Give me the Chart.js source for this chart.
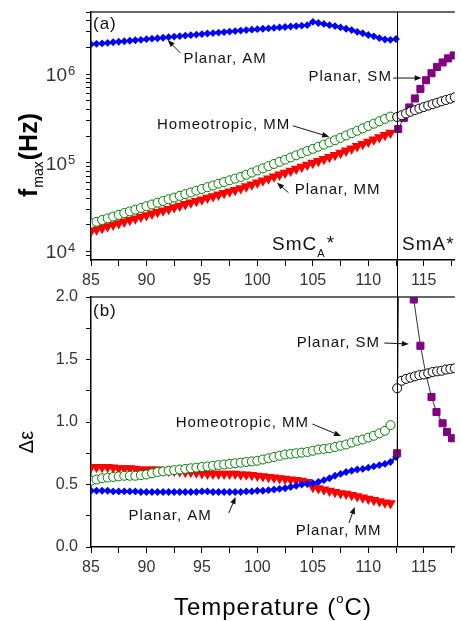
<!DOCTYPE html>
<html>
<head>
<meta charset="utf-8">
<script src="https://cdn.jsdelivr.net/npm/chart.js@4.4.1/dist/chart.umd.min.js"></script>
<style>
  html, body { margin: 0; padding: 0; background: #fff; }
  #wrap { position: relative; width: 461px; height: 621px; overflow: hidden; }
  canvas { position: absolute; left: 0; }
  #chartA { top: 0; }
  #chartB { top: 280px; }
</style>
</head>
<body>
<div id="wrap">
  <canvas id="chartA" width="461" height="300"></canvas>
  <canvas id="chartB" width="461" height="341"></canvas>
</div>
<script>
var FONT = '"Liberation Sans", Arial, sans-serif';

// temperatures (°C)
var tempsMM = [85, 85.5, 86, 86.5, 87, 87.5, 88, 88.5, 89, 89.5, 90, 90.5, 91, 91.5, 92, 92.5, 93, 93.5, 94, 94.5,
  95, 95.5, 96, 96.5, 97, 97.5, 98, 98.5, 99, 99.5, 100, 100.5, 101, 101.5, 102, 102.5, 103, 103.5, 104, 104.5,
  105, 105.5, 106, 106.5, 107, 107.5, 108, 108.5, 109, 109.5, 110, 110.5, 111, 111.5, 112];
var tempsAM = tempsMM.concat([112.5]);
var tempsSmA = [112.6, 113, 113.4, 113.8, 114.2, 114.6, 115, 115.4, 115.8, 116.2, 116.6, 117, 117.4, 117.8];
var tempsSMa = [112.7, 113.2, 113.7, 114.2, 114.7, 115.2, 115.7, 116.2, 116.7, 117.2, 117.7];
var tempsSMb = [112.6, 113, 114.1, 114.7, 115.2, 115.7, 116.15, 116.7, 117.1, 117.55];

// (a) f_max in Hz
var fmaxPlanarAM = [2.16e6, 2.19e6, 2.21e6, 2.24e6, 2.28e6, 2.31e6, 2.34e6, 2.37e6, 2.40e6, 2.43e6,
  2.47e6, 2.50e6, 2.53e6, 2.56e6, 2.60e6, 2.64e6, 2.67e6, 2.71e6, 2.74e6, 2.78e6,
  2.82e6, 2.86e6, 2.89e6, 2.93e6, 2.97e6, 3.01e6, 3.05e6, 3.09e6, 3.13e6, 3.16e6,
  3.20e6, 3.24e6, 3.27e6, 3.31e6, 3.35e6, 3.39e6, 3.43e6, 3.47e6, 3.51e6, 3.55e6,
  3.87e6, 3.76e6, 3.67e6, 3.55e6, 3.47e6, 3.35e6, 3.24e6, 3.13e6, 2.99e6, 2.88e6,
  2.75e6, 2.66e6, 2.54e6, 2.45e6, 2.43e6, 2.48e6];
var fmaxHomeoMM = [20650, 21580, 22590, 23610, 24720, 25820, 27040, 28250, 29580, 30900,
  32360, 33810, 35400, 36980, 38730, 40460, 42270, 44260, 46240, 48420,
  50580, 52970, 55340, 57940, 60530, 63390, 66220, 69180, 73110, 77450,
  81850, 86500, 91620, 96830, 102300, 108100, 114600, 121100, 127900, 135500,
  143200, 151400, 160000, 169400, 179100, 190500, 202800, 215300, 229100, 243800,
  259400, 275400, 293100, 311900, 331100];
var fmaxPlanarMM = [16900, 17620, 18370, 19140, 19950, 20750, 21630, 22540, 23500, 24490,
  25530, 26610, 27730, 28840, 30060, 31330, 32660, 34040, 35480, 36980,
  38460, 40090, 41780, 43550, 45390, 47320, 49200, 51290, 53950, 56750,
  59700, 62810, 66070, 69660, 73280, 77090, 81100, 85310, 89740, 94410,
  99310, 104500, 109900, 115600, 121600, 128800, 136500, 144500, 153500, 162600,
  172200, 182400, 193200, 204600, 217300];
var fmaxHomeoSmA = [327300, 342800, 358900, 375000, 390800, 407400, 423600, 440600, 457100, 474200,
  492000, 509300, 527200, 545800];
var fmaxPlanarSM = [2.4e5, 3.2e5, 4.2e5, 5.3e5, 6.8e5, 8.5e5, 1.02e6, 1.2e6, 1.35e6, 1.5e6, 1.62e6];

// (b) delta epsilon
var deltaPlanarMM = [0.64, 0.64, 0.64, 0.64, 0.635, 0.63, 0.63, 0.63, 0.625, 0.62,
  0.62, 0.62, 0.62, 0.615, 0.61, 0.61, 0.605, 0.60, 0.60, 0.595,
  0.59, 0.585, 0.585, 0.585, 0.585, 0.585, 0.585, 0.58, 0.58, 0.575,
  0.57, 0.565, 0.56, 0.555, 0.55, 0.545, 0.54, 0.535, 0.53, 0.52,
  0.48, 0.47, 0.46, 0.45, 0.44, 0.43, 0.425, 0.415, 0.405, 0.395,
  0.385, 0.375, 0.365, 0.355, 0.35];
var deltaPlanarAM = [0.45, 0.45, 0.45, 0.45, 0.445, 0.445, 0.445, 0.445, 0.445, 0.44,
  0.44, 0.44, 0.44, 0.44, 0.44, 0.44, 0.44, 0.44, 0.44, 0.44,
  0.445, 0.445, 0.44, 0.44, 0.44, 0.44, 0.44, 0.44, 0.445, 0.445,
  0.45, 0.45, 0.455, 0.46, 0.465, 0.47, 0.48, 0.49, 0.50, 0.505,
  0.51, 0.52, 0.535, 0.55, 0.57, 0.585, 0.60, 0.61, 0.62, 0.625,
  0.635, 0.645, 0.655, 0.665, 0.68, 0.72];
var deltaHomeoMM = [0.53, 0.54, 0.55, 0.555, 0.56, 0.565, 0.57, 0.57, 0.57, 0.575,
  0.58, 0.59, 0.60, 0.605, 0.61, 0.615, 0.62, 0.625, 0.63, 0.635,
  0.64, 0.645, 0.65, 0.655, 0.66, 0.665, 0.67, 0.675, 0.68, 0.685,
  0.69, 0.70, 0.71, 0.72, 0.73, 0.74, 0.745, 0.75, 0.755, 0.76,
  0.77, 0.78, 0.785, 0.79, 0.80, 0.81, 0.82, 0.835, 0.85, 0.86,
  0.875, 0.89, 0.91, 0.93, 0.975];
var deltaHomeoSmA = [1.27, 1.33, 1.345, 1.355, 1.365, 1.375, 1.38, 1.39, 1.40, 1.405, 1.41, 1.42, 1.425, 1.43];
var deltaPlanarSM = [0.75, 5.0, 1.98, 1.61, 1.38, 1.20, 1.08, 0.99, 0.92, 0.87];

// axes
var tempTicks = [85, 87.5, 90, 92.5, 95, 97.5, 100, 102.5, 105, 107.5, 110, 112.5, 115, 117.5];
var logTicks = [9000, 10000, 20000, 30000, 40000, 50000, 60000, 70000, 80000, 90000,
  100000, 200000, 300000, 400000, 500000, 600000, 700000, 800000, 900000,
  1000000, 2000000, 3000000, 4000000, 5000000];
var logLabels = [10000, 100000, 1000000];
var deltaTicks = [0, 0.25, 0.5, 0.75, 1, 1.25, 1.5, 1.75, 2];
var phaseBoundary = 112.6;

// text notes: [text, temperature, value]
var notesA = [['Planar, AM', 93.34, 1.475e6], ['Planar, SM', 104.61, 9.25e5],
  ['Homeotropic, MM', 90.95, 2.67e5], ['Planar, MM', 103.37, 4.97e4]];
var arrowsA = [[93.07, 1.72e6, 91.92, 2.41e6], [112.24, 9.0e5, 114.81, 9.0e5],
  [103.19, 2.61e5, 106.47, 1.96e5], [102.8, 4.6e4, 101.77, 5.96e4]];
var notesB = [['Planar, SM', 103.55, 1.632], ['Homeotropic, MM', 92.63, 0.992],
  ['Planar, AM', 88.37, 0.248], ['Planar, MM', 103.46, 0.128]];
var arrowsB = [[111.44, 1.632, 113.66, 1.624], [104.96, 0.984, 107.54, 0.888],
  [97.42, 0.272, 98.04, 0.40], [108.25, 0.192, 108.78, 0.32]];

function pts(xs, ys) {
  return xs.map(function (x, i) { return { x: x, y: ys[i] }; });
}

var blueStyle = { pointStyle: 'rectRot', pointRadius: 2.5, pointBackgroundColor: '#0000ff', pointBorderColor: '#0000ff',
  showLine: true, borderColor: '#0000ff', borderWidth: 2, order: 3 };
var redStyle = { pointStyle: 'triangle', pointRotation: 180, pointRadius: 4.2, pointBackgroundColor: '#ff0000',
  pointBorderColor: '#ff0000', showLine: true, borderColor: '#ff0000', borderWidth: 2, order: 4 };
var greenStyle = { pointStyle: 'circle', pointRadius: 4.5, pointBackgroundColor: '#ffffff', pointBorderColor: '#008000',
  pointBorderWidth: 1, showLine: false, order: 2 };
var blackStyle = { pointStyle: 'circle', pointRadius: 4.5, pointBackgroundColor: '#ffffff', pointBorderColor: '#000000',
  pointBorderWidth: 1, showLine: false, order: 0 };
var purpleStyle = { pointStyle: 'rect', pointRadius: 5, pointBackgroundColor: '#800080', pointBorderColor: '#800080',
  showLine: true, borderColor: '#333', borderWidth: 1, order: 1 };

function ds(xs, ys, style) {
  return Object.assign({ data: pts(xs, ys), pointHoverRadius: 0 }, style);
}

function xAxis(height) {
  return {
    type: 'linear', min: 85, max: 117.8,
    afterBuildTicks: function (s) { s.ticks = tempTicks.map(function (v) { return { value: v }; }); },
    afterFit: function (s) { s.height = height; s.paddingLeft = 0; s.paddingRight = 0; },
    ticks: {
      autoSkip: false, maxRotation: 0, padding: 5, color: '#333', font: { family: FONT, size: 16 },
      callback: function (v) { return v % 5 === 0 ? String(v) : ''; }
    },
    grid: { drawOnChartArea: false, drawTicks: true, tickLength: 6, color: '#000', tickColor: '#000' },
    border: { color: '#000', width: 1.5 }
  };
}

function text(ctx, s, x, y, size, weight) {
  ctx.font = (weight || '') + ' ' + size + 'px ' + FONT;
  ctx.fillText(s, x, y);
  return ctx.measureText(s).width;
}

function arrow(ctx, x1, y1, x2, y2) {
  var a = Math.atan2(y2 - y1, x2 - x1), L = 7, W = 2.8;
  ctx.beginPath();
  ctx.moveTo(x1, y1);
  ctx.lineTo(x2 - Math.cos(a) * L * 0.6, y2 - Math.sin(a) * L * 0.6);
  ctx.stroke();
  ctx.beginPath();
  ctx.moveTo(x2, y2);
  ctx.lineTo(x2 - L * Math.cos(a) + W * Math.sin(a), y2 - L * Math.sin(a) - W * Math.cos(a));
  ctx.lineTo(x2 - L * Math.cos(a) - W * Math.sin(a), y2 - L * Math.sin(a) + W * Math.cos(a));
  ctx.closePath();
  ctx.fill();
}

function drawNotes(chart, notes, arrows) {
  var ctx = chart.ctx, xs = chart.scales.x, ys = chart.scales.y;
  ctx.save();
  ctx.fillStyle = '#111';
  ctx.strokeStyle = '#111';
  ctx.lineWidth = 1;
  ctx.letterSpacing = '1px';
  ctx.textAlign = 'left';
  ctx.textBaseline = 'middle';
  notes.forEach(function (n) {
    text(ctx, n[0], xs.getPixelForValue(n[1]), ys.getPixelForValue(n[2]), 15);
  });
  arrows.forEach(function (a) {
    arrow(ctx, xs.getPixelForValue(a[0]), ys.getPixelForValue(a[1]), xs.getPixelForValue(a[2]), ys.getPixelForValue(a[3]));
  });
  ctx.restore();
}

function frame(chart, fromY, toY) {
  var ctx = chart.ctx, area = chart.chartArea;
  var xb = chart.scales.x.getPixelForValue(phaseBoundary);
  ctx.save();
  ctx.strokeStyle = '#333';
  ctx.lineWidth = 1.5;
  ctx.beginPath();
  ctx.moveTo(area.left, area.top);
  ctx.lineTo(area.right, area.top);
  ctx.stroke();
  ctx.strokeStyle = '#000';
  ctx.lineWidth = 1;
  ctx.beginPath();
  ctx.moveTo(Math.round(xb) + 0.5, fromY);
  ctx.lineTo(Math.round(xb) + 0.5, toY);
  ctx.stroke();
  ctx.restore();
}

var panelA = {
  id: 'panelA',
  afterDraw: function (chart) {
    var ctx = chart.ctx, area = chart.chartArea, xs = chart.scales.x, ys = chart.scales.y;
    frame(chart, area.top, chart.height);
    drawNotes(chart, notesA, arrowsA);
    ctx.save();
    ctx.fillStyle = '#111';
    ctx.textBaseline = 'alphabetic';
    ctx.letterSpacing = '1px';
    // panel letter
    ctx.textAlign = 'left';
    text(ctx, '(a)', area.left + 2, area.top + 17, 17);
    // phase names
    var px = xs.getPixelForValue(101.33), py = ys.getPixelForValue(1.26e4) + 7;
    px += text(ctx, 'SmC', px, py, 19);
    px += text(ctx, 'A', px, py + 7, 11);
    text(ctx, '*', px + 1, py - 1, 19);
    text(ctx, 'SmA*', xs.getPixelForValue(113.04), py, 19);
    // log tick labels
    ctx.letterSpacing = '0px';
    ctx.fillStyle = '#333';
    logLabels.forEach(function (v) {
      var y = ys.getPixelForValue(v);
      ctx.textAlign = 'right';
      text(ctx, '10', 67, y + 7, 19);
      ctx.textAlign = 'left';
      text(ctx, String(Math.round(Math.log10(v))), 68, y + 1, 13);
    });
    // y title
    ctx.translate(37, 197);
    ctx.rotate(-Math.PI / 2);
    ctx.fillStyle = '#000';
    var w = text(ctx, 'f', 0, 0, 25, 'bold');
    w += text(ctx, 'max', w + 1, 6, 14);
    text(ctx, '(Hz)', w + 2, 0, 25, 'bold');
    ctx.restore();
  }
};

var panelB = {
  id: 'panelB',
  afterDraw: function (chart) {
    var ctx = chart.ctx, area = chart.chartArea;
    frame(chart, 0, area.bottom);
    drawNotes(chart, notesB, arrowsB);
    ctx.save();
    ctx.fillStyle = '#111';
    ctx.textBaseline = 'alphabetic';
    ctx.letterSpacing = '1px';
    ctx.textAlign = 'left';
    text(ctx, '(b)', area.left + 2, area.top + 19, 17);
    // x title
    ctx.fillStyle = '#000';
    ctx.font = '24px ' + FONT;
    var w1 = ctx.measureText('Temperature (').width;
    var w3 = ctx.measureText('C)').width;
    ctx.font = '13px ' + FONT;
    var w2 = ctx.measureText('o').width;
    var x = (area.left + area.right) / 2 - (w1 + w2 + w3) / 2;
    var base = 335;
    x += text(ctx, 'Temperature (', x, base, 24);
    x += text(ctx, 'o', x, base - 12, 13);
    text(ctx, 'C)', x, base, 24);
    // y title
    ctx.translate(33, 162);
    ctx.rotate(-Math.PI / 2);
    ctx.textAlign = 'center';
    ctx.letterSpacing = '0px';
    text(ctx, 'Δε', 0, 0, 20);
    ctx.restore();
  }
};

var common = {
  responsive: false,
  animation: false,
  events: [],
  plugins: { legend: { display: false }, tooltip: { enabled: false } }
};

new Chart(document.getElementById('chartA'), {
  type: 'scatter',
  data: {
    datasets: [
      ds(tempsAM, fmaxPlanarAM, blueStyle),
      ds(tempsMM, fmaxPlanarMM, redStyle),
      ds(tempsMM, fmaxHomeoMM, greenStyle),
      ds(tempsSmA, fmaxHomeoSmA, blackStyle),
      ds(tempsSMa, fmaxPlanarSM, purpleStyle)
    ]
  },
  options: Object.assign({}, common, {
    layout: { padding: { top: 12, left: 0, right: 0, bottom: 0 } },
    scales: {
      x: xAxis(40),
      y: {
        type: 'logarithmic', min: 8000, max: 5e6,
        afterBuildTicks: function (s) { s.ticks = logTicks.map(function (v) { return { value: v }; }); },
        afterFit: function (s) { s.width = 91; s.paddingTop = 0; s.paddingBottom = 0; },
        ticks: { autoSkip: false, callback: function () { return ''; } },
        grid: { drawOnChartArea: false, drawTicks: true, tickLength: 5, color: '#000', tickColor: '#000' },
        border: { color: '#000', width: 1.5 }
      }
    }
  }),
  plugins: [panelA]
});

new Chart(document.getElementById('chartB'), {
  type: 'scatter',
  data: {
    datasets: [
      ds(tempsAM, deltaPlanarAM, blueStyle),
      ds(tempsMM, deltaPlanarMM, redStyle),
      ds(tempsMM, deltaHomeoMM, greenStyle),
      ds(tempsSmA, deltaHomeoSmA, blackStyle),
      ds(tempsSMb, deltaPlanarSM, purpleStyle)
    ]
  },
  options: Object.assign({}, common, {
    layout: { padding: { top: 17, left: 0, right: 0, bottom: 0 } },
    scales: {
      x: xAxis(74),
      y: {
        type: 'linear', min: 0, max: 2,
        afterBuildTicks: function (s) { s.ticks = deltaTicks.map(function (v) { return { value: v }; }); },
        afterFit: function (s) { s.width = 91; s.paddingTop = 0; s.paddingBottom = 0; },
        ticks: {
          autoSkip: false, padding: 8, color: '#333', font: { family: FONT, size: 16 },
          callback: function (v) { return Math.abs(v * 2 - Math.round(v * 2)) < 1e-9 ? v.toFixed(1) : ''; }
        },
        grid: { drawOnChartArea: false, drawTicks: true, tickLength: 5, color: '#000', tickColor: '#000' },
        border: { color: '#000', width: 1.5 }
      }
    }
  }),
  plugins: [panelB]
});
</script>
</body>
</html>
